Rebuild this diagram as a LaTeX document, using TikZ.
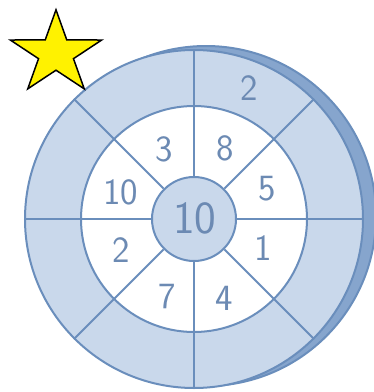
\documentclass[tikz,border=0pt]{standalone}
\usepackage{fontspec}
\usetikzlibrary{positioning}

\definecolor{ringblue}{HTML}{C9D8EB}
\definecolor{lineblue}{HTML}{6A8EBC}
\definecolor{rimblue}{HTML}{86A5CD}
\definecolor{digitblue}{HTML}{6C8AB3}

\tikzset{
  disc/.style={circle, draw=lineblue, line width=2pt, inner sep=0pt},
  spoke/.style={draw=lineblue, line width=1.8pt},
  digit/.style={text=digitblue, inner sep=0pt,
    font=\sffamily\fontsize{37}{37}\selectfont},
  bigdigit/.style={digit, font=\sffamily\fontsize{46}{46}\selectfont}
}

\begin{document}
\begin{tikzpicture}[x=1pt, y=-1pt]
  \useasboundingbox (0,0) rectangle (374,392);
  \fill[white] (0,0) rectangle (374,392);

  % target disc
  \node[disc, fill=rimblue, minimum size=340pt] (back) at (206,216) {};
  \node[disc, fill=ringblue, minimum size=338pt] (rim) at (194,219) {};
  \node[disc, fill=white, minimum size=226pt] (ring) at (rim.center) {};
  \node[disc, fill=ringblue, minimum size=84pt] (core) at (rim.center) {};
  \foreach \a in {0,45,...,315}
    \draw[spoke] (core.\a) -- (rim.\a);

  % numbers
  \node[bigdigit] (mid) at (195,218) {10};
  \node[digit] (n3)  at (164,149) {3};
  \node[digit] (n8)  at (225,148) {8};
  \node[digit] (n5)  at (267,189) {5};
  \node[digit] (n1)  at (263,248) {1};
  \node[digit] (n4)  at (224,298) {4};
  \node[digit] (n7)  at (167,297) {7};
  \node[digit] (n2)  at (121,250) {2};
  \node[digit] (n10) at (121,192) {10};
  \node[digit] (top) at (249,88)  {2};

  % star
  \begin{scope}[shift={(56,53.5)}, xscale=1.1]
    \draw[line width=1.5pt, line join=miter, fill=yellow]
      (-90:43.7) -- (-54:16.7) -- (-18:43.7) -- (18:16.7) -- (54:43.7)
      -- (90:16.7) -- (126:43.7) -- (162:16.7) -- (198:43.7)
      -- (234:16.7) -- cycle;
  \end{scope}
\end{tikzpicture}
\end{document}
